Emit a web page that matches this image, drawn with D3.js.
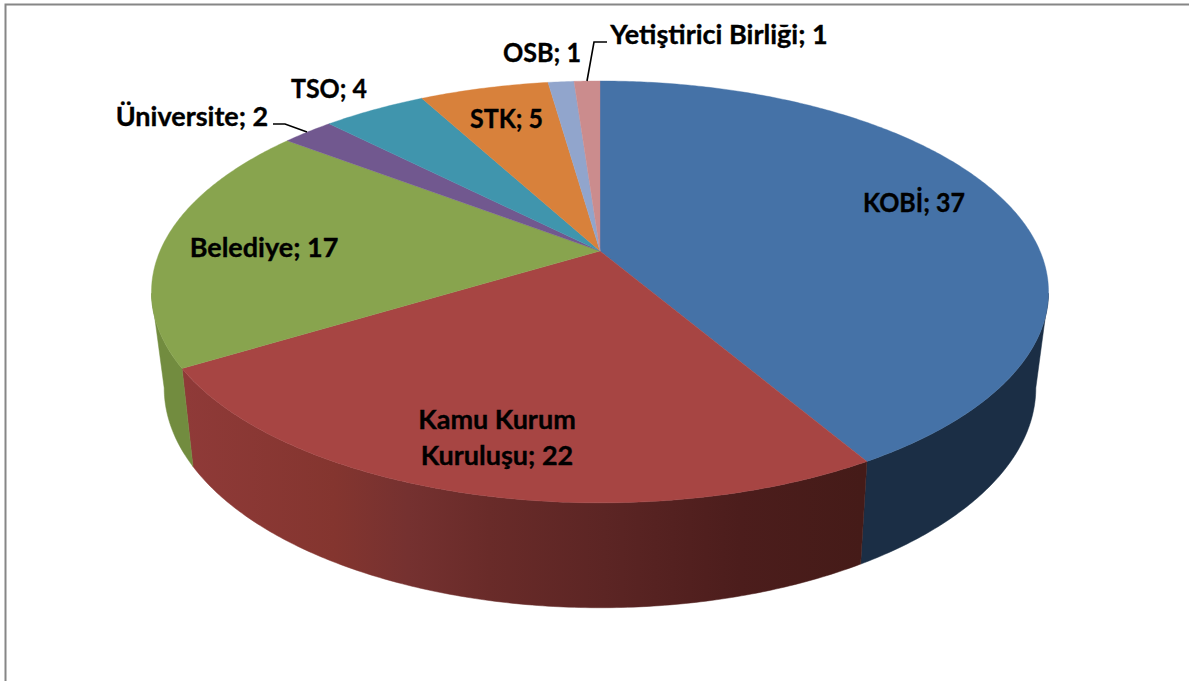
<!DOCTYPE html>
<html><head><meta charset="utf-8">
<script src="https://cdn.jsdelivr.net/npm/d3@7/dist/d3.min.js"></script>
<style>html,body{margin:0;padding:0;background:#fff;overflow:hidden}svg{display:block}
text{font-family:Lato,"Noto Sans",sans-serif;font-weight:700;fill:#000;stroke:#000;stroke-width:0.35px;text-anchor:middle}</style>
</head><body><div id="chart"></div>
<script>
// Data
const categories = ["KOBİ","Kamu Kurum Kuruluşu","Belediye","Üniversite","TSO","STK","OSB","Yetiştirici Birliği"];
const values = [37,22,17,2,4,5,1,1];
const topColors = ["#4572A7","#A74543","#88A44E","#71588F","#4095AD","#D8813B","#91A5CC","#CB8C8D"];
const sideColors = ["#1B2E45","url(#redSide)","#728C3F","#4A3A5E","#2A6272","#8E5527","#5F6C86","#855C5C"];

// Layout
const W = 1189, H = 681;
const topFace = {x0:600, y0:251, a:440, b:203, k:0.194};
const baseFace = {x0:600, y0:344, a:427, b:211, k:0.2};
const fontSize = 27;
const labelLayout = [
  {lines:["KOBİ; 37"], x:914, y:212, width:102},
  {lines:["Kamu Kurum","Kuruluşu; 22"], x:497, y:429, dy:36},
  {lines:["Belediye; 17"], x:264, y:257},
  {lines:["Üniversite; 2"], x:192, y:126},
  {lines:["TSO; 4"], x:329, y:98, width:76},
  {lines:["STK; 5"], x:506.5, y:128, width:73},
  {lines:["OSB; 1"], x:542, y:62, width:78},
  {lines:["Yetiştirici Birliği; 1"], x:719, y:44}
];
const leaders = [
  [[273,124],[285,124],[307,132]],
  [[607,42],[594,42],[587,81]]
];

// Perspective projection of a disc: angle measured clockwise from the top.
const project = (f, t) => {
  const u = Math.sin(t), v = -Math.cos(t), w = 1 - f.k * v;
  return [f.x0 + f.a * u / w, f.y0 + f.b * v / w];
};
const arcPoints = (f, a0, a1) => {
  const n = Math.max(2, Math.ceil(Math.abs(a1 - a0) / 0.01));
  return d3.range(n + 1).map(i => project(f, a0 + (a1 - a0) * i / n));
};
const line = d3.line().curve(d3.curveLinear);

const svg = d3.select("#chart").append("svg").attr("width", W).attr("height", H);
svg.append("rect").attr("width", W).attr("height", H).attr("fill", "#fff");
svg.append("path").attr("d", `M5.5,${H}V4.5H${W}`).attr("fill","none").attr("stroke","#868686").attr("stroke-width",2);

const grad = svg.append("defs").append("linearGradient").attr("id","redSide")
  .attr("gradientUnits","userSpaceOnUse").attr("x1",185).attr("x2",862).attr("y1",0).attr("y2",0);
[[0,"#8F3A38"],[0.22,"#84352F"],[0.33,"#753130"],[0.45,"#692B29"],[0.62,"#5C2524"],[0.82,"#4C1D1C"],[1,"#451B18"]]
  .forEach(([o,c]) => grad.append("stop").attr("offset",o).attr("stop-color",c));

const pie = d3.pie().sort(null).value(d => d)(values);

// Visible side walls: the front half between the two silhouette angles.
const limR = Math.PI - Math.acos(0.2) , limL = 2 * Math.PI - limR;
const walls = svg.append("g");
pie.forEach((s, i) => {
  const a0 = Math.max(s.startAngle, limR), a1 = Math.min(s.endAngle, limL);
  if (a1 <= a0) return;
  const pts = arcPoints(topFace, a0, a1).concat(arcPoints(baseFace, a1, a0));
  walls.append("path").attr("d", line(pts) + "Z").attr("fill", sideColors[i])
    .attr("stroke", sideColors[i]).attr("stroke-width", 0.5);
});

// Top face
const faces = svg.append("g");
pie.forEach((s, i) => {
  const pts = [[topFace.x0, topFace.y0]].concat(arcPoints(topFace, s.startAngle, s.endAngle));
  faces.append("path").attr("d", line(pts) + "Z").attr("fill", topColors[i])
    .attr("stroke", topColors[i]).attr("stroke-width", 0.4);
});

// Leader lines
leaders.forEach(l => svg.append("path").attr("d", line(l)).attr("fill","none").attr("stroke","#000").attr("stroke-width",1.6));

// Labels
labelLayout.forEach(l => {
  l.lines.forEach((t, j) => {
    const el = svg.append("text").attr("x", l.x).attr("y", l.y + j * (l.dy || 0))
      .attr("font-size", fontSize).text(t);
    if (l.width) el.attr("textLength", l.width).attr("lengthAdjust", "spacingAndGlyphs");
  });
});
</script></body></html>
